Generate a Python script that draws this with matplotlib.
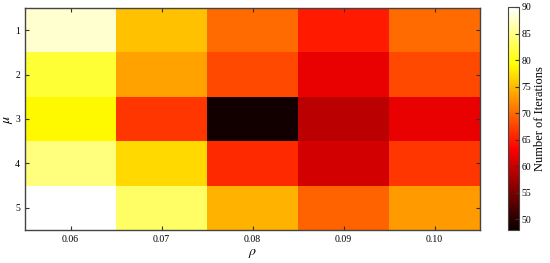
import matplotlib
matplotlib.use("Agg")
import matplotlib.pyplot as plt
import numpy as np

rho_labels = ["0.06", "0.07", "0.08", "0.09", "0.10"]
mu_labels = ["1", "2", "3", "4", "5"]
iterations = [
    [88.0, 75.5, 70.0, 65.0, 70.0],
    [81.5, 73.5, 68.0, 62.0, 68.0],
    [79.0, 66.8, 48.5, 59.0, 62.0],
    [84.5, 77.0, 66.0, 60.5, 66.8],
    [90.0, 83.5, 74.5, 69.5, 73.0],
]
vmin, vmax = 48, 90
cbar_ticks = [50, 55, 60, 65, 70, 75, 80, 85, 90]

plt.rcParams['font.family'] = ['Liberation Serif', 'DejaVu Serif']
plt.rcParams['mathtext.fontset'] = 'stix'

fig = plt.figure(figsize=(5.5, 2.63), dpi=100)
ax = fig.add_axes([25/550, 1-230/263, 455/550, 222/263])
cax = fig.add_axes([508/550, 1-230/263, 11/550, 223/263])

data = np.array(iterations)
im = ax.imshow(data, cmap='hot', vmin=vmin, vmax=vmax, aspect='auto',
               interpolation='nearest')
ax.set_xticks(range(len(rho_labels)))
ax.set_xticklabels(rho_labels)
ax.set_yticks(range(len(mu_labels)))
ax.set_yticklabels(mu_labels)
ax.tick_params(direction='in', top=True, right=True, labelsize=7, length=3,
               color='#333333', width=0.8)
ax.set_xlabel(r'$\rho$', fontsize=10, labelpad=2)
ax.set_ylabel(r'$\mu$', fontsize=10)
ax.yaxis.set_label_coords(-0.022, 0.5)
for s in ax.spines.values():
    s.set_color('#444444')
    s.set_linewidth(1.0)

cb = fig.colorbar(im, cax=cax, ticks=cbar_ticks)
cb.ax.tick_params(direction='in', labelsize=7, length=3, color='#333333', width=0.8, pad=2)
cb.set_label('Number of Iterations', fontsize=9, labelpad=2)
cb.outline.set_edgecolor('#444444')

fig.savefig('out.png', dpi=100)
